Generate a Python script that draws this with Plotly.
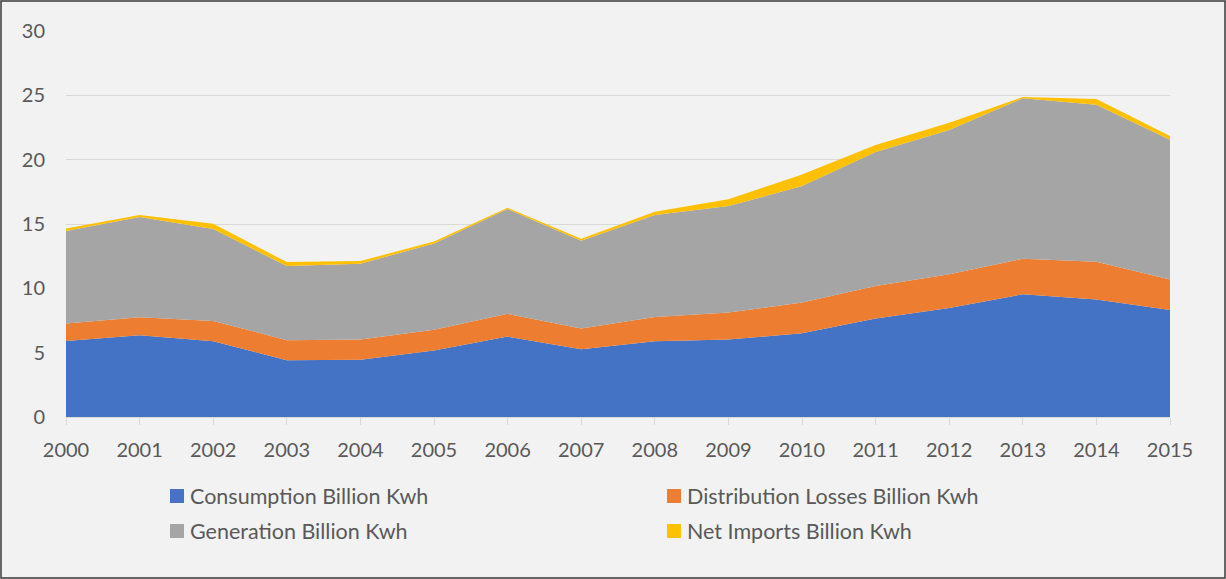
import plotly.graph_objects as go

# Annual electricity figures, billion kWh
years = list(range(2000, 2016))
consumption = [5.91, 6.36, 5.89, 4.41, 4.44, 5.16, 6.25, 5.27,
               5.89, 6.02, 6.51, 7.65, 8.48, 9.54, 9.13, 8.32]
distribution_losses = [1.35, 1.40, 1.58, 1.56, 1.58, 1.63, 1.77, 1.60,
                       1.89, 2.10, 2.39, 2.54, 2.62, 2.75, 2.93, 2.36]
generation = [7.19, 7.78, 7.14, 5.76, 5.89, 6.70, 8.14, 6.83,
              7.91, 8.27, 9.05, 10.40, 11.20, 12.48, 12.21, 10.87]
net_imports = [0.20, 0.16, 0.41, 0.31, 0.21, 0.15, 0.10, 0.15,
               0.26, 0.54, 0.90, 0.55, 0.57, 0.10, 0.44, 0.29]

series_names = ["Consumption Billion Kwh", "Distribution Losses Billion Kwh",
                "Generation Billion Kwh", "Net Imports Billion Kwh"]
series_values = [consumption, distribution_losses, generation, net_imports]
colors = ["#4472C4", "#ED7D31", "#A5A5A5", "#FFC000"]

FONT = "Lato"
TEXT_COLOR = "#595959"
W, H = 1226, 579
ML, MR, MT, MB = 66, 56, 31, 162
PW, PH = W - ML - MR, H - MT - MB

fig = go.Figure()
for name, vals, col in zip(series_names, series_values, colors):
    fig.add_trace(go.Scatter(
        x=years, y=vals, name=name, mode="lines",
        stackgroup="one", line=dict(width=0, color=col),
        fillcolor=col, showlegend=False,
    ))


def px_x(px):
    return (px - ML) / PW


def px_y(py):
    return (H - MB - py) / PH


# Legend laid out in two columns beneath the axis
legend_slots = [(170, 496), (667, 496), (170, 531), (667, 531)]
shapes = []
annotations = []
for (lx, ly), name, col in zip(legend_slots, series_names, colors):
    shapes.append(dict(type="rect", xref="paper", yref="paper",
                       x0=px_x(lx), x1=px_x(lx + 14),
                       y0=px_y(ly + 7), y1=px_y(ly - 7),
                       fillcolor=col, line=dict(width=0)))
    annotations.append(dict(xref="paper", yref="paper",
                            x=px_x(lx + 18), y=px_y(ly),
                            xanchor="left", yanchor="middle",
                            text=name, showarrow=False,
                            font=dict(family=FONT, size=21.5, color=TEXT_COLOR)))

# Outer frame around the whole chart
shapes.append(dict(type="rect", xref="paper", yref="paper",
                   x0=px_x(1), x1=px_x(W - 1), y0=px_y(H - 1), y1=px_y(1),
                   line=dict(color="#3A3A3A", width=1.5),
                   fillcolor="rgba(0,0,0,0)", layer="above"))

fig.update_layout(
    width=W, height=H,
    margin=dict(l=ML, r=MR, t=MT, b=MB, pad=0),
    paper_bgcolor="#F2F2F2", plot_bgcolor="#F2F2F2",
    font=dict(family=FONT, size=20, color=TEXT_COLOR),
    showlegend=False,
    shapes=shapes, annotations=annotations,
    xaxis=dict(range=[2000, 2015], tickmode="linear", tick0=2000, dtick=1,
               showgrid=False, zeroline=False,
               showline=True, linecolor="#D9D9D9", linewidth=1,
               ticks="outside", ticklen=7, tickcolor="#D9D9D9",
               tickfont=dict(family=FONT, size=20, color=TEXT_COLOR),
               ticklabelstandoff=8),
    yaxis=dict(range=[0, 30], tickmode="linear", tick0=0, dtick=5,
               showgrid=True, gridcolor="#D9D9D9", gridwidth=1,
               zeroline=False, showline=False,
               tickfont=dict(family=FONT, size=20, color=TEXT_COLOR),
               ticklabelstandoff=20),
)

fig.write_html("out.html")
